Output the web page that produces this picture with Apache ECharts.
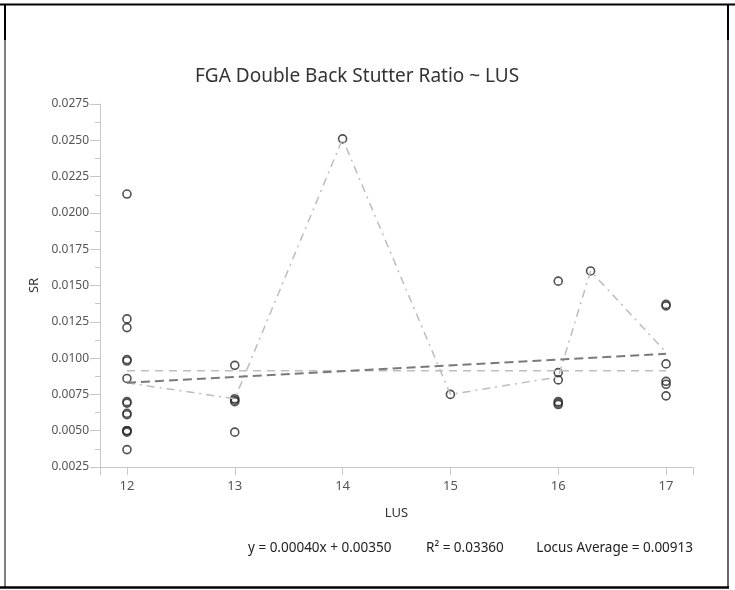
<!DOCTYPE html>
<html>
<head>
<meta charset="utf-8">
<script src="https://cdn.jsdelivr.net/npm/echarts@6/dist/echarts.min.js"></script>
<style>
html,body{margin:0;padding:0;background:#fff;}
#chart{width:735px;height:590px;}
</style>
</head>
<body>
<div id="chart"></div>
<script>
// ---- data ----
const lusValues = [
  12,12,12,12,12,12,12,12,12,12,12,12,12,12,12,
  13,13,13,13,13,
  14,
  15,
  16,16,16,16,16,16,
  16.3,
  17,17,17,17,17,17
];
const srValues = [
  0.0213,0.0127,0.0121,0.0099,0.0098,0.0086,0.0070,0.0069,0.0062,0.0061,0.0050,0.0050,0.0050,0.0049,0.0037,
  0.0095,0.0072,0.0071,0.0070,0.0049,
  0.0251,
  0.0075,
  0.0153,0.0090,0.0085,0.0070,0.0069,0.0068,
  0.0160,
  0.0137,0.0136,0.0096,0.0084,0.0082,0.0074
];
const meanLus = [12,13,14,15,16,16.3,17];
const meanSr = [0.0083,0.0072,0.0251,0.0075,0.0087,0.0160,0.0104];
const trendLus = [12,17];
const trendSr = [0.0083,0.0103];
const avgLus = [12,17];
const locusAverage = 0.00913;
const xTickLabels = [12,13,14,15,16,17];
const xTickMarks = [11.75,12,13,14,15,16,17,17.25];
const titleText = 'FGA Double Back Stutter Ratio ~ LUS';
const equationText = 'y = 0.00040x + 0.00350';
const r2Text = 'R\u00B2 = 0.03360';
const avgText = 'Locus Average = 0.00913';

const FONT = '"Noto Sans", "Open Sans", sans-serif';
const zip = (a, b) => a.map((v, i) => [v, b[i]]);

const chart = echarts.init(document.getElementById('chart'), null, {renderer: 'canvas'});
chart.setOption({
  animation: false,
  backgroundColor: '#fff',
  title: {
    text: titleText,
    left: 190,
    top: 62,
    textStyle: {fontFamily: FONT, fontSize: 19, fontWeight: 'normal', color: '#333'}
  },
  grid: {left: 100, right: 42, top: 104, bottom: 123, containLabel: false},
  xAxis: {
    type: 'value',
    min: 11.75,
    max: 17.25,
    name: 'LUS',
    nameLocation: 'middle',
    nameGap: 40,
    nameTextStyle: {fontFamily: FONT, fontSize: 13, color: '#333'},
    axisLine: {show: true, lineStyle: {color: '#c8c8c8', width: 1}},
    axisTick: {show: true, customValues: xTickMarks, length: 8, lineStyle: {color: '#c8c8c8'}},
    axisLabel: {customValues: xTickLabels, fontFamily: FONT, fontSize: 13, color: '#555', margin: 13},
    splitLine: {show: false}
  },
  yAxis: {
    type: 'value',
    min: 0.0025,
    max: 0.0275,
    interval: 0.0025,
    name: 'SR',
    nameLocation: 'middle',
    nameGap: 59,
    nameTextStyle: {fontFamily: FONT, fontSize: 13, color: '#333'},
    axisLine: {show: true, lineStyle: {color: '#c8c8c8', width: 1}},
    axisTick: {show: true, length: 10, lineStyle: {color: '#c8c8c8'}},
    minorTick: {show: true, splitNumber: 2, length: 5, lineStyle: {color: '#c8c8c8'}},
    axisLabel: {fontFamily: FONT, fontSize: 12, color: '#555', margin: 11,
      formatter: v => v.toFixed(4)},
    splitLine: {show: false}
  },
  graphic: [
    {type: 'line', shape: {x1: 0, y1: 4.5, x2: 735, y2: 4.5}, style: {stroke: '#000', lineWidth: 2}},
    {type: 'line', shape: {x1: 5, y1: 4, x2: 5, y2: 588}, style: {stroke: '#000', lineWidth: 1}},
    {type: 'line', shape: {x1: 5, y1: 4, x2: 5, y2: 40}, style: {stroke: '#000', lineWidth: 2}},
    {type: 'line', shape: {x1: 728, y1: 4, x2: 728, y2: 588}, style: {stroke: '#000', lineWidth: 1.2}},
    {type: 'line', shape: {x1: 728, y1: 4, x2: 728, y2: 40}, style: {stroke: '#000', lineWidth: 2}},
    {type: 'line', shape: {x1: 0, y1: 587.5, x2: 729, y2: 587.5}, style: {stroke: '#000', lineWidth: 2.5}},
    {type: 'text', left: 248, top: 541, style: {text: equationText, font: '13.5px ' + FONT, fill: '#222'}},
    {type: 'text', left: 426, top: 541, style: {text: r2Text, font: '13.5px ' + FONT, fill: '#222'}},
    {type: 'text', right: 42, top: 541, style: {text: avgText, font: '13.5px ' + FONT, fill: '#222'}}
  ],
  series: [
    {
      type: 'line', data: zip(avgLus, avgLus.map(() => locusAverage)), showSymbol: false, silent: true,
      lineStyle: {color: '#bdbdbd', width: 1.5, type: [8, 6]}
    },
    {
      type: 'line', data: zip(meanLus, meanSr), showSymbol: false, silent: true,
      lineStyle: {color: '#bdbdbd', width: 1.5, type: [8, 5, 2, 5]}
    },
    {
      type: 'line', data: zip(trendLus, trendSr), showSymbol: false, silent: true,
      lineStyle: {color: '#7a7a7a', width: 2, type: [9, 5]}
    },
    {
      type: 'scatter', data: zip(lusValues, srValues), symbol: 'circle', symbolSize: 8,
      itemStyle: {color: 'rgba(0,0,0,0)', borderColor: '#333', borderWidth: 1.6, opacity: 0.85}
    }
  ]
});
</script>
</body>
</html>
